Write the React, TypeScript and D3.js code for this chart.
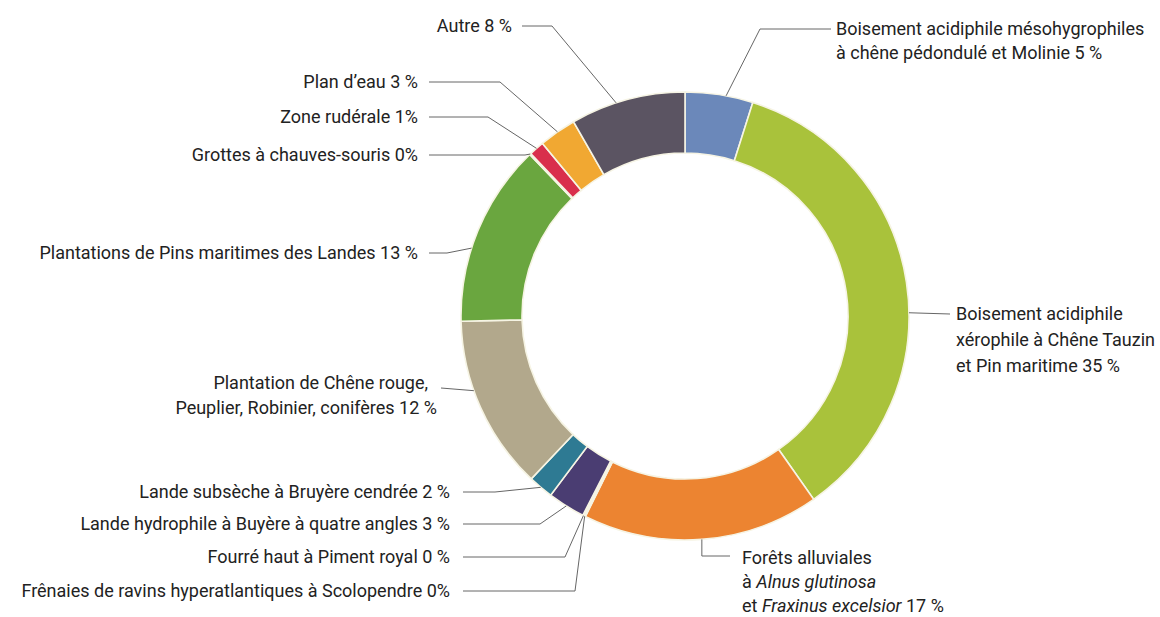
import React from "react";
import * as d3 from "d3";

const categories = [
  "Boisement acidiphile mésohygrophiles à chêne pédondulé et Molinie",
  "Boisement acidiphile xérophile à Chêne Tauzin et Pin maritime",
  "Forêts alluviales à Alnus glutinosa et Fraxinus excelsior",
  "Frênaies de ravins hyperatlantiques à Scolopendre",
  "Fourré haut à Piment royal",
  "Lande hydrophile à Buyère à quatre angles",
  "Lande subsèche à Bruyère cendrée",
  "Plantation de Chêne rouge, Peuplier, Robinier, conifères",
  "Plantations de Pins maritimes des Landes",
  "Grottes à chauves-souris",
  "Zone rudérale",
  "Plan d’eau",
  "Autre",
];

const shares = [4.9, 35.4, 17.1, 0.1, 0.1, 2.7, 1.8, 12.6, 13.2, 0.1, 1.1, 2.7, 8.3];

const colors = [
  "#6b88ba", "#a9c23b", "#ec8431", "#c9c9c9", "#c9c9c9", "#4a3d72", "#2e7a93",
  "#b2a88c", "#6aa63f", "#c9c9c9", "#d92f4c", "#f1a832", "#5b5462",
];

// label text lines (segments between _ are italic)
const labelLines: string[][] = [
  ["Boisement acidiphile mésohygrophiles", "à chêne pédondulé et Molinie 5 %"],
  ["Boisement acidiphile", "xérophile à Chêne Tauzin", "et Pin maritime 35 %"],
  ["Forêts alluviales", "à _Alnus glutinosa_", "et _Fraxinus excelsior_ 17 %"],
  ["Frênaies de ravins hyperatlantiques à Scolopendre 0%"],
  ["Fourré haut à Piment royal 0 %"],
  ["Lande hydrophile à Buyère à quatre angles 3 %"],
  ["Lande subsèche à Bruyère cendrée 2 %"],
  ["Plantation de Chêne rouge,\u00a0\u00a0", "Peuplier, Robinier, conifères 12 %"],
  ["Plantations de Pins maritimes des Landes 13 %"],
  ["Grottes à chauves-souris 0%"],
  ["Zone rudérale 1%"],
  ["Plan d’eau 3 %"],
  ["Autre 8 %"],
];

type Lay = { side: "l" | "r"; tx: number; ty: number; lh: number; t: number; ex: number | "a" | null; lx: number; ly?: number };
const layout: Lay[] = [
  { side: "r", tx: 836, ty: 28, lh: 24, t: 0.6, ex: 760, lx: 831 },
  { side: "r", tx: 956, ty: 313, lh: 26, t: 0.562, ex: null, lx: 950 },
  { side: "r", tx: 742, ty: 557, lh: 24, t: 0.5, ex: "a", lx: 730, ly: 556 },
  { side: "l", tx: 450, ty: 590, lh: 24, t: 0.5, ex: 575, lx: 463 },
  { side: "l", tx: 450, ty: 556, lh: 24, t: 0.5, ex: 565, lx: 463 },
  { side: "l", tx: 450, ty: 523, lh: 24, t: 0.5, ex: 540, lx: 463 },
  { side: "l", tx: 450, ty: 491, lh: 24, t: 0.5, ex: 495, lx: 463 },
  { side: "l", tx: 437, ty: 382, lh: 25, t: 0.6, ex: null, lx: 441, ly: 388 },
  { side: "l", tx: 418, ty: 252, lh: 24, t: 0.4, ex: 447, lx: 429 },
  { side: "l", tx: 418, ty: 154, lh: 24, t: 0.5, ex: 525, lx: 429 },
  { side: "l", tx: 418, ty: 116, lh: 24, t: 0.5, ex: 488, lx: 429 },
  { side: "l", tx: 418, ty: 81, lh: 24, t: 0.5, ex: 500, lx: 429 },
  { side: "l", tx: 512, ty: 25, lh: 24, t: 0.4, ex: 552, lx: 522 },
];

const W = 1160, H = 617;
const CX = 685, CY = 316, R_OUT = 224, R_IN = 163;
const FONT = "Roboto, 'Noto Sans', sans-serif";
const FS = 18;

function renderLine(s: string) {
  const parts = s.split("_");
  return parts.map((p, i) => (
    <tspan key={i} fontStyle={i % 2 === 1 ? "italic" : "normal"}>{p}</tspan>
  ));
}

export default function App() {
  const data = categories.map((c, i) => ({ c, v: shares[i], i }));
  const pie = d3.pie<any>().sort(null).value((d) => d.v);
  const arcs = pie(data);
  const arc = d3.arc<any>().innerRadius(R_IN).outerRadius(R_OUT);

  return (
    <svg width={W} height={H} style={{ position: "absolute", left: 0, top: 0, background: "#fff" }}>
      <g transform={`translate(${CX},${CY})`}>
        {arcs.map((a, i) => (
          <path key={i} d={arc(a) || ""} fill={colors[i]} stroke="#f6f4e4" strokeWidth={1.6} />
        ))}
      </g>
      {arcs.map((a, i) => {
        const L = layout[i];
        const ang = a.startAngle + L.t * (a.endAngle - a.startAngle);
        const ax = CX + R_OUT * Math.sin(ang);
        const ay = CY - R_OUT * Math.cos(ang);
        const ly = L.ly ?? L.ty + 1;
        let pts: [number, number][];
        if (L.ex === null) pts = [[L.lx, ly], [ax, ay]];
        else if (L.ex === "a") pts = [[L.lx, ly], [ax, ly], [ax, ay]];
        else pts = [[L.lx, ly], [L.ex, ly], [ax, ay]];
        const d = d3.line()(pts) || "";
        return (
          <g key={i}>
            <path d={d} fill="none" stroke="#666" strokeWidth={1} />
            <text
              x={L.tx}
              y={L.ty}
              fontFamily={FONT}
              fontSize={FS}
              fill="#222"
              textAnchor={L.side === "l" ? "end" : "start"}
              dominantBaseline="central"
              style={{ whiteSpace: "pre" }}
            >
              {labelLines[i].map((ln, k) => (
                <tspan key={k} x={L.tx} dy={k === 0 ? 0 : L.lh}>{renderLine(ln)}</tspan>
              ))}
            </text>
          </g>
        );
      })}
    </svg>
  );
}
